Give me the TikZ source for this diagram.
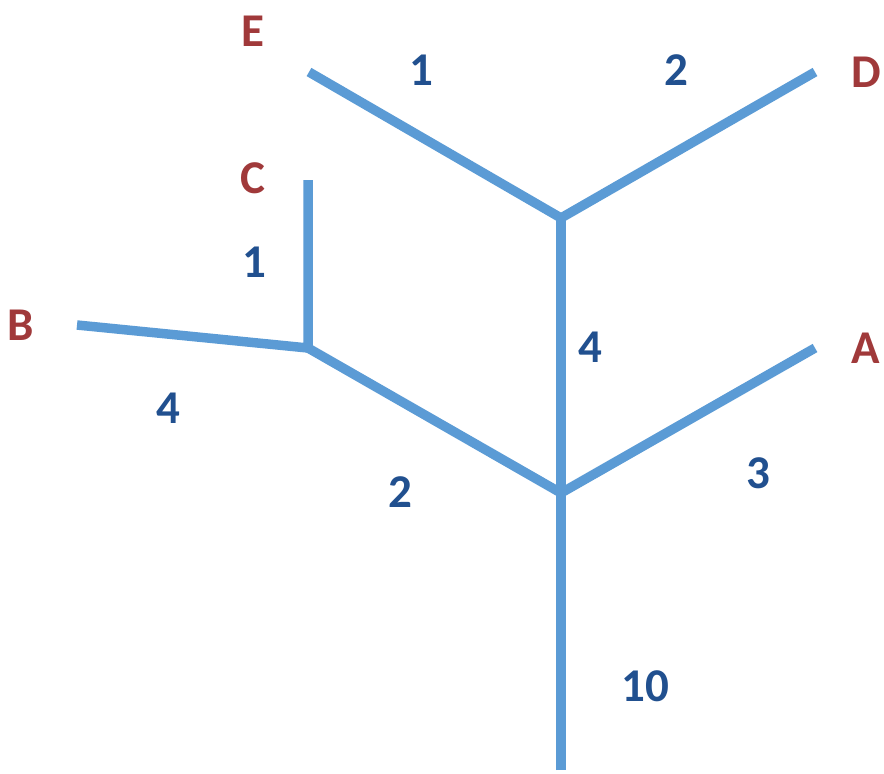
\documentclass[tikz,border=0pt]{standalone}
\usepackage{fontspec}
\setmainfont{Carlito}
\definecolor{rama}{HTML}{5B9BD5}
\definecolor{hoja}{HTML}{A0393A}
\definecolor{peso}{HTML}{21508F}

\begin{document}
\begin{tikzpicture}[x=1pt,y=-1pt,line width=9.5pt,
  rotulo/.style={text=hoja,font=\fontsize{47}{50}\selectfont\bfseries},
  valor/.style={text=peso,font=\fontsize{47}{50}\selectfont\bfseries}]
  \useasboundingbox (0,0) rectangle (884,774);
  % nudos del arbol
  \coordinate (raiz) at (561,770);
  \coordinate (j1) at (561,493);
  \coordinate (j2) at (561,218);
  \coordinate (j3) at (308,348);
  \coordinate (pE) at (309,72);
  \coordinate (pD) at (815,72);
  \coordinate (pA) at (815,348);
  \coordinate (pC) at (308,180);
  \coordinate (pB) at (77,325);
  % ramas
  \draw[rama] (raiz)--(j1) (j1)--(j2);
  \draw[rama] (j2)--(pE) (j2)--(pD);
  \draw[rama] (j1)--(pA) (j1)--(j3);
  \draw[rama] (j3)--(pC) (j3)--(pB);
  % hojas
  \node[rotulo] (E) at (253,31) {E};
  \node[rotulo] (D) at (866,72) {D};
  \node[rotulo] (C) at (253,178) {C};
  \node[rotulo] (B) at (21,325) {B};
  \node[rotulo] (A) at (866,348) {A};
  % longitudes
  \node[valor] (lE) at (421,70) {1};
  \node[valor] (lD) at (676,70) {2};
  \node[valor] (lC) at (254,262) {1};
  \node[valor] (lB) at (168,408) {4};
  \node[valor] (l3) at (400,492) {2};
  \node[valor] (l2) at (590,347) {4};
  \node[valor] (lA) at (758,473) {3};
  \node[valor] (l1) at (645,686) {10};
\end{tikzpicture}
\end{document}
